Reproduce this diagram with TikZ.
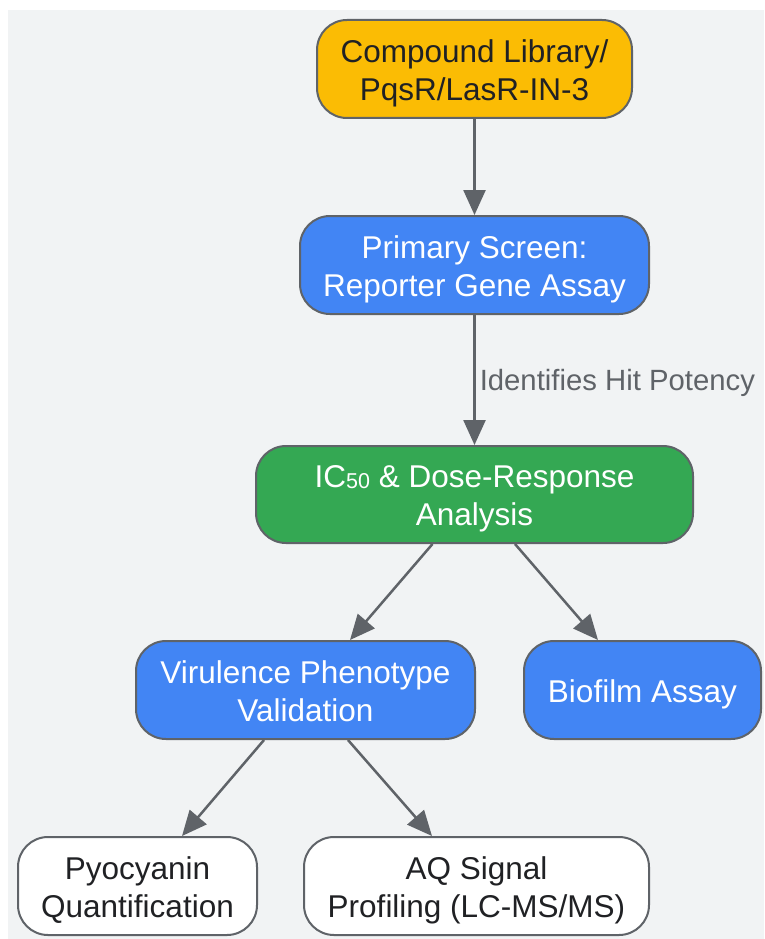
\documentclass[tikz,border=0pt]{standalone}
\usepackage{fontspec}
\setmainfont{Liberation Sans}
\usetikzlibrary{arrows.meta}
\definecolor{bg}{HTML}{F1F3F4}
\definecolor{edgec}{HTML}{5F6368}
\definecolor{txtdark}{HTML}{202124}
\definecolor{gorange}{HTML}{FBBC04}
\definecolor{gblue}{HTML}{4285F4}
\definecolor{ggreen}{HTML}{34A853}
\newcommand\ls{\rule[-6.4pt]{0pt}{37pt}}
\tikzset{
  box/.style={draw=edgec, line width=2pt, rounded corners=30pt, inner sep=0pt,
    minimum height=98pt, align=center,
    font=\fontsize{31.5}{38}\selectfont},
  orangebox/.style={box, fill=gorange, text=txtdark},
  bluebox/.style={box, fill=gblue, text=white},
  greenbox/.style={box, fill=ggreen, text=white},
  whitebox/.style={box, fill=white, text=txtdark},
  conn/.style={draw=edgec, line width=2.5pt, -{Triangle[length=25pt,width=22pt]}},
  elabel/.style={text=edgec, font=\fontsize{29.3}{34}\selectfont, inner sep=4pt, yshift=-3pt}
}
\begin{document}
\begin{tikzpicture}[x=1pt,y=1pt]
\useasboundingbox (0,0) rectangle (764,-939);
\fill[bg] (8,-10) rectangle (764,-939);

\node[orangebox, minimum width=315pt] (lib) at (474.5,-69) {\ls Compound Library/\\\ls PqsR/LasR-IN-3};
\node[bluebox, minimum width=349pt] (prim) at (474.5,-265) {\ls Primary Screen:\\\ls Reporter Gene Assay};
\node[greenbox, minimum width=437pt, minimum height=97pt] (ic) at (474.5,-494.5)
  {\ls IC\raisebox{-1pt}{\fontsize{21.5}{21.5}\selectfont 50} \& Dose-Response\\\ls Analysis};
\node[bluebox, minimum width=339pt] (vir) at (305.5,-690) {\ls Virulence Phenotype\\\ls Validation};
\node[bluebox, minimum width=237pt] (bio) at (642.5,-690) {\ls Biofilm Assay};
\node[whitebox, minimum width=239pt] (pyo) at (137.5,-886) {\ls Pyocyanin\\\ls Quantification};
\node[whitebox, minimum width=345pt] (aq) at (476.5,-886) {\ls AQ Signal\\\ls Profiling (LC-MS/MS)};

\draw[conn] (lib) -- (prim);
\draw[conn] (prim) -- node[right, elabel] {Identifies Hit Potency} (ic);
\draw[conn] ([xshift=-42pt]ic.south) -- ([xshift=44.5pt]vir.north);
\draw[conn] ([xshift=40.5pt]ic.south) -- ([xshift=-44.5pt]bio.north);
\draw[conn] ([xshift=-41.5pt]vir.south) -- ([xshift=44.5pt]pyo.north);
\draw[conn] ([xshift=42.5pt]vir.south) -- ([xshift=-44.5pt]aq.north);
\end{tikzpicture}
\end{document}
